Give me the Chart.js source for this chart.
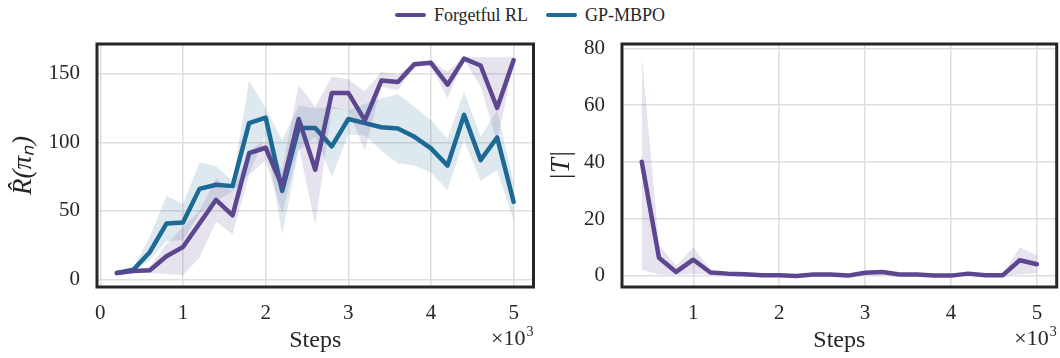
<!DOCTYPE html>
<html>
<head>
<meta charset="utf-8">
<script src="https://cdn.jsdelivr.net/npm/chart.js@4.4.1/dist/chart.umd.min.js"></script>
<style>
  body { margin: 0; background: #fff; }
  #wrap { position: relative; width: 1060px; height: 358px; }
  #legend {
    position: absolute; top: 3px; left: 0; width: 1060px; height: 24px;
    display: flex; justify-content: center; align-items: center;
    font: 18px "Liberation Serif", serif; color: #262626;
  }
  #legend .item { display: flex; align-items: center; margin: 0 9px; }
  #legend .swatch { width: 31px; height: 4px; border-radius: 2px; margin-right: 8px; }
  .panel { position: absolute; top: 0; height: 358px; }
</style>
</head>
<body>
<div id="wrap">
  <div id="legend"></div>
  <div class="panel" style="left:0;width:545px"><canvas id="rewardChart" width="545" height="358"></canvas></div>
  <div class="panel" style="left:545px;width:515px"><canvas id="sizeChart" width="515" height="358"></canvas></div>
</div>
<script>
// evaluation steps (x axis)
const steps = [200, 400, 600, 800, 1000, 1200, 1400, 1600, 1800, 2000, 2200, 2400, 2600,
               2800, 3000, 3200, 3400, 3600, 3800, 4000, 4200, 4400, 4600, 4800, 5000];
const sizeSteps = [400, 600, 800, 1000, 1200, 1400, 1600, 1800, 2000, 2200, 2400, 2600,
                   2800, 3000, 3200, 3400, 3600, 3800, 4000, 4200, 4400, 4600, 4800, 5000];

const seriesNames = ['Forgetful RL', 'GP-MBPO'];

// estimated return, mean and spread
const forgetfulReward   = [4.6, 6, 6.6, 16.8, 23.6, 40.7, 58, 46.7, 92, 96, 68, 117, 80,
                           136, 136, 116, 145, 144, 157, 158, 142, 161, 156, 125, 160];
const forgetfulRewardLo = [4, 4.6, 4.6, 4, 3, 16, 42, 33, 76, 87, 48, 96.7, 39.4,
                           124.7, 123.5, 94, 140.5, 138, 155, 156, 132, 160, 140.5, 100, 158];
const forgetfulRewardHi = [5.5, 6.6, 9, 26, 38, 50, 73.5, 64, 94, 101.5, 80, 141.7, 126,
                           148, 146, 137, 151.5, 149, 158.5, 159.5, 151.5, 162.4, 162, 162, 162];

const gpReward   = [4.6, 7, 20, 40.7, 41.4, 66, 69, 68, 114, 118, 64.5, 110.5, 110.5,
                    97, 117, 114, 111, 110, 104, 95.5, 83, 120, 87, 103.5, 56.5];
const gpRewardLo = [4, 6, 14, 28, 28.5, 48, 57, 64, 77, 105, 32.6, 94, 104,
                    75, 105.7, 105, 94, 84.5, 83, 78, 65, 101.5, 72, 79.6, 43];
const gpRewardHi = [5.5, 9, 31, 61, 55, 85.5, 82.5, 72, 145, 125, 101.5, 127, 124.7,
                    126, 123.5, 128, 132, 135, 126, 116, 103, 137, 104, 123.5, 70];

// size of the retained set |T|
const forgetfulSize   = [40.1, 6.4, 1.4, 5.7, 1.2, 0.8, 0.6, 0.2, 0.2, 0, 0.5, 0.5,
                         0.1, 1.1, 1.4, 0.5, 0.5, 0.1, 0.1, 0.8, 0.2, 0.2, 5.5, 4.1];
const forgetfulSizeLo = [2.2, 0.5, 0.3, 0.8, 0.5, 0.3, 0.2, 0, 0, 0, 0.2, 0.2,
                         0, 0.5, 0.8, 0.2, 0.2, 0, 0, 0.3, 0, 0, 0.5, 1];
const forgetfulSizeHi = [77.6, 11, 3.5, 10.2, 2, 1.3, 1, 0.5, 0.5, 0.3, 0.8, 0.8,
                         0.3, 1.7, 2, 0.8, 0.8, 0.3, 0.3, 1.3, 0.5, 0.5, 10, 7.3];

const xTicks = [0, 1, 2, 3, 4, 5];

const PURPLE = '#5F4690';
const BLUE = '#1D6996';
const PURPLE_BAND = 'rgba(95, 70, 144, 0.15)';
const BLUE_BAND = 'rgba(29, 105, 150, 0.15)';
const INK = '#262626';
const SERIF = '"Liberation Serif", "Times New Roman", serif';

const pts = (xs, ys) => xs.map((x, i) => ({ x: x, y: ys[i] }));

function band(xs, lo, hi, color) {
  return [
    { data: pts(xs, hi), fill: '+1', backgroundColor: color, borderColor: 'transparent',
      borderWidth: 0, pointRadius: 0 },
    { data: pts(xs, lo), fill: false, borderColor: 'transparent', borderWidth: 0, pointRadius: 0 }
  ];
}

function line(xs, ys, color, label) {
  return { label: label, data: pts(xs, ys), borderColor: color, borderWidth: 4.5,
           borderJoinStyle: 'round', borderCapStyle: 'round', pointRadius: 0,
           fill: false, tension: 0 };
}

// dark box around the plot area plus the x10^3 offset text
const framePlugin = {
  id: 'frame',
  afterDraw(chart) {
    const { ctx, chartArea: a } = chart;
    ctx.save();
    ctx.strokeStyle = INK;
    ctx.lineWidth = 3;
    ctx.strokeRect(a.left, a.top, a.right - a.left, a.bottom - a.top);
    ctx.fillStyle = INK;
    ctx.textBaseline = 'alphabetic';
    ctx.textAlign = 'right';
    ctx.font = '14px ' + SERIF;
    ctx.fillText('3', a.right, 336);
    const w = ctx.measureText('3').width;
    ctx.font = '22px ' + SERIF;
    ctx.fillText('\u00d710', a.right - w - 1, 345);
    ctx.restore();
  }
};

function makeOptions(xMin, xMax, yMin, yMax, yStep, yTitle, yWidth, yTitlePad, padRight) {
  return {
    responsive: false,
    animation: false,
    layout: { padding: { top: 44, right: padRight, left: 0, bottom: 0 } },
    plugins: { legend: { display: false }, tooltip: { enabled: false } },
    scales: {
      x: {
        type: 'linear', min: xMin, max: xMax,
        afterFit: (s) => { s.height = 71; },
        afterBuildTicks: (s) => {
          s.ticks = xTicks.filter(v => v * 1000 >= s.min && v * 1000 <= s.max)
                          .map(v => ({ value: v * 1000 }));
        },
        grid: { color: '#dedede', lineWidth: 1.5, drawTicks: false },
        border: { display: false },
        ticks: { padding: 14, color: INK, font: { family: SERIF, size: 21 },
                 maxRotation: 0, callback: (v) => String(v / 1000) },
        title: { display: true, text: 'Steps', color: INK,
                 font: { family: SERIF, size: 24 }, padding: { top: 0, bottom: 3 } }
      },
      y: {
        min: yMin, max: yMax,
        afterFit: (s) => { s.width = yWidth; },
        grid: { color: '#dedede', lineWidth: 1.5, drawTicks: false },
        border: { display: false },
        ticks: { stepSize: yStep, includeBounds: false, padding: 17, color: INK,
                 font: { family: SERIF, size: 21 } },
        title: { display: true, text: yTitle, color: INK,
                 font: { family: SERIF, size: 27, style: 'italic' },
                 padding: { top: yTitlePad, bottom: 0 } }
      }
    }
  };
}

const rewardChart = new Chart(document.getElementById('rewardChart'), {
  type: 'line',
  data: {
    datasets: [
      ...band(steps, forgetfulRewardLo, forgetfulRewardHi, PURPLE_BAND),
      ...band(steps, gpRewardLo, gpRewardHi, BLUE_BAND),
      line(steps, forgetfulReward, PURPLE, seriesNames[0]),
      line(steps, gpReward, BLUE, seriesNames[1])
    ]
  },
  options: makeOptions(-40, 5240, -5.6, 171.7, 50, 'R\u0302(\u03c0\u2099)', 97, 8, 11.5),
  plugins: [framePlugin]
});

const sizeChart = new Chart(document.getElementById('sizeChart'), {
  type: 'line',
  data: {
    datasets: [
      ...band(sizeSteps, forgetfulSizeLo, forgetfulSizeHi, PURPLE_BAND),
      line(sizeSteps, forgetfulSize, PURPLE, seriesNames[0])
    ]
  },
  options: makeOptions(170, 5230, -3.9, 81.5, 20, '|T|', 77, 1, 3.3),
  plugins: [framePlugin]
});

// shared legend above both panels
const legendEl = document.getElementById('legend');
rewardChart.data.datasets.filter(d => d.label).forEach(d => {
  const item = document.createElement('div');
  item.className = 'item';
  const sw = document.createElement('span');
  sw.className = 'swatch';
  sw.style.background = d.borderColor;
  const txt = document.createElement('span');
  txt.textContent = d.label;
  item.appendChild(sw);
  item.appendChild(txt);
  legendEl.appendChild(item);
});
</script>
</body>
</html>
